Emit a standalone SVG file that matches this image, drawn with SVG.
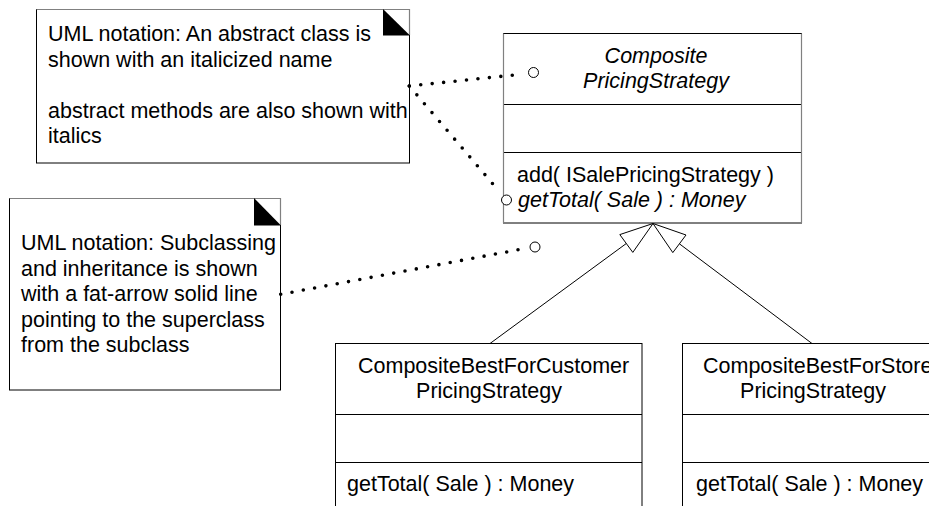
<svg xmlns="http://www.w3.org/2000/svg" width="929" height="506" viewBox="0 0 929 506">
<style>
text{font-family:"Liberation Sans",Arial,sans-serif;font-size:21.5px;fill:#000}
.it{font-style:italic}
.box{fill:#fff;stroke:#000;stroke-width:1}
.gray{stroke:#808080;stroke-width:1.2;fill:none}
.ln{stroke:#000;stroke-width:1;fill:none}
.dot{stroke:#000;stroke-width:3.6;stroke-linecap:round;stroke-dasharray:0 1;fill:none}
.end{fill:#fff;stroke:#000;stroke-width:1}
.head{fill:#fff;stroke:#000;stroke-width:1;stroke-linejoin:miter}
.fold{fill:#000;stroke:none}
</style>
<rect width="929" height="506" fill="#fff"/>

<g id="note-abstract">
<rect class="box" x="36.5" y="9.5" width="373" height="153.5"/>
<path class="gray" d="M36.5 9.5 H409.5 V35"/>
<path class="fold" d="M383 9 L383 35.5 L410 35.5 Z"/>
<text x="48" y="41">UML notation: An abstract class is</text>
<text x="48" y="66.5">shown with an italicized name</text>
<text x="48" y="117.5">abstract methods are also shown with</text>
<text x="48" y="143">italics</text>
</g>

<g id="note-subclass">
<rect class="box" x="9.5" y="198.5" width="271" height="191.5"/>
<path class="gray" d="M9.5 198.5 H280.5 V225"/>
<path class="fold" d="M254 198 L254 225.5 L281 225.5 Z"/>
<text x="21" y="250">UML notation: Subclassing</text>
<text x="21" y="275.5">and inheritance is shown</text>
<text x="21" y="301">with a fat-arrow solid line</text>
<text x="21" y="326.5">pointing to the superclass</text>
<text x="21" y="352">from the subclass</text>
</g>

<g id="class-composite">
<rect class="box" x="503.5" y="33.5" width="298" height="189.5"/>
<line class="ln" x1="503.5" y1="104.5" x2="801.5" y2="104.5"/>
<line class="ln" x1="503.5" y1="152.5" x2="801.5" y2="152.5"/>
<path class="gray" d="M503.5 33.5 V223 M801.5 33.5 V223"/>
<text class="it" x="656" y="63" text-anchor="middle">Composite</text>
<text class="it" x="656" y="88" text-anchor="middle">PricingStrategy</text>
<text x="517" y="182">add( ISalePricingStrategy )</text>
<text class="it" x="518" y="207">getTotal( Sale ) : Money</text>
</g>

<g id="class-best-customer">
<rect class="box" x="335.5" y="343.5" width="306.5" height="180"/>
<line class="ln" x1="335.5" y1="414.5" x2="642" y2="414.5"/>
<line class="ln" x1="335.5" y1="462.5" x2="642" y2="462.5"/>
<text x="358" y="373">CompositeBestForCustomer</text>
<text x="489" y="398" text-anchor="middle">PricingStrategy</text>
<text x="347" y="491">getTotal( Sale ) : Money</text>
</g>

<g id="class-best-store">
<rect class="box" x="682.5" y="343.5" width="280" height="180"/>
<line class="ln" x1="682.5" y1="414.5" x2="962" y2="414.5"/>
<line class="ln" x1="682.5" y1="462.5" x2="962" y2="462.5"/>
<text x="703" y="373">CompositeBestForStore</text>
<text x="813" y="398" text-anchor="middle">PricingStrategy</text>
<text x="696" y="491">getTotal( Sale ) : Money</text>
</g>

<g id="connectors">
<path class="dot" pathLength="10" d="M409.3 86 L523.7 74"/>
<path class="dot" pathLength="12" d="M409.3 86 L500 192.3"/>
<path class="dot" pathLength="22" d="M280.7 294.3 L529.3 247.7"/>
<circle class="end" cx="533.5" cy="72.5" r="5"/>
<circle class="end" cx="506.5" cy="200" r="5"/>
<circle class="end" cx="535" cy="247" r="5"/>
<line class="ln" x1="626.3" y1="243.5" x2="490" y2="343.5"/>
<line class="ln" x1="679.4" y1="243.8" x2="812" y2="343.5"/>
<path class="head" d="M653 223.5 L632.8 252.4 L619.8 234.6 Z"/>
<path class="head" d="M653 223.5 L686 235 L672.8 252.6 Z"/>
</g>
</svg>
